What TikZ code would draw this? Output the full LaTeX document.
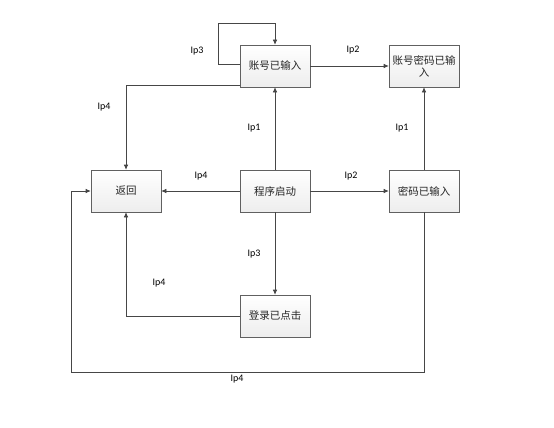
\documentclass[tikz,border=0pt]{standalone}
\usepackage{fontspec}
\newfontfamily\cjk{Noto Sans CJK SC}
\newfontfamily\lab{Carlito}
\usetikzlibrary{arrows.meta,shadows}
\begin{document}
\begin{tikzpicture}[x=1pt,y=-1pt,
  box/.style={draw=gray!75!black, line width=0.6pt, top color=white, bottom color=gray!14,
    minimum width=70pt, minimum height=42pt, inner sep=1pt, align=center,
    font=\cjk\fontsize{10.5}{12}\selectfont, text=gray!30!black,
    drop shadow={shadow xshift=0.8pt, shadow yshift=-0.8pt, opacity=0.25}},
  arr/.style={draw=gray!55!black, line width=0.6pt, -{Latex[length=5pt,width=4.5pt]}},
  lbl/.style={font=\lab\fontsize{10}{11}\selectfont, text=black}]
\useasboundingbox (0,0) rectangle (554,428);
\fill[white] (0,0) rectangle (554,428);
\node[box] (acc) at (275,66) {账号已输入};
\node[box] (both) at (424,66) {账号密码已输\\入};
\node[box] (back) at (126,191) {返回};
\node[box] (start) at (275,191) {程序启动};
\node[box] (pwd) at (424,191) {密码已输入};
\node[box] (login) at (275,316) {登录已点击};
\coordinate (c1) at (71,372);
\draw[arr] (start) -- (acc);
\draw[arr] (pwd) -- (both);
\draw[arr] (acc) -- (both);
\draw[arr] (start) -- (back);
\draw[arr] (start) -- (pwd);
\draw[arr] (start) -- (login);
\draw[arr] ([yshift=2pt]acc.west) -- ++(-21,0) |- ([yshift=21pt]acc.north) -- (acc.north);
\draw[arr] ([yshift=-19pt]acc.west) -| (back.north);
\draw[arr] (login.west) -| (back.south);
\draw[arr] (pwd.south) |- (c1) |- (back.west);
\node[lbl] (l1) at (197,51) {Ip3};
\node[lbl] (l2) at (353,50) {Ip2};
\node[lbl] (l3) at (104,107) {Ip4};
\node[lbl] (l4) at (254,128) {Ip1};
\node[lbl] (l5) at (402,128) {Ip1};
\node[lbl] (l6) at (201,176) {Ip4};
\node[lbl] (l7) at (351,176) {Ip2};
\node[lbl] (l8) at (254,254) {Ip3};
\node[lbl] (l9) at (159,283) {Ip4};
\node[lbl] (l10) at (237,379) {Ip4};
\end{tikzpicture}
\end{document}
